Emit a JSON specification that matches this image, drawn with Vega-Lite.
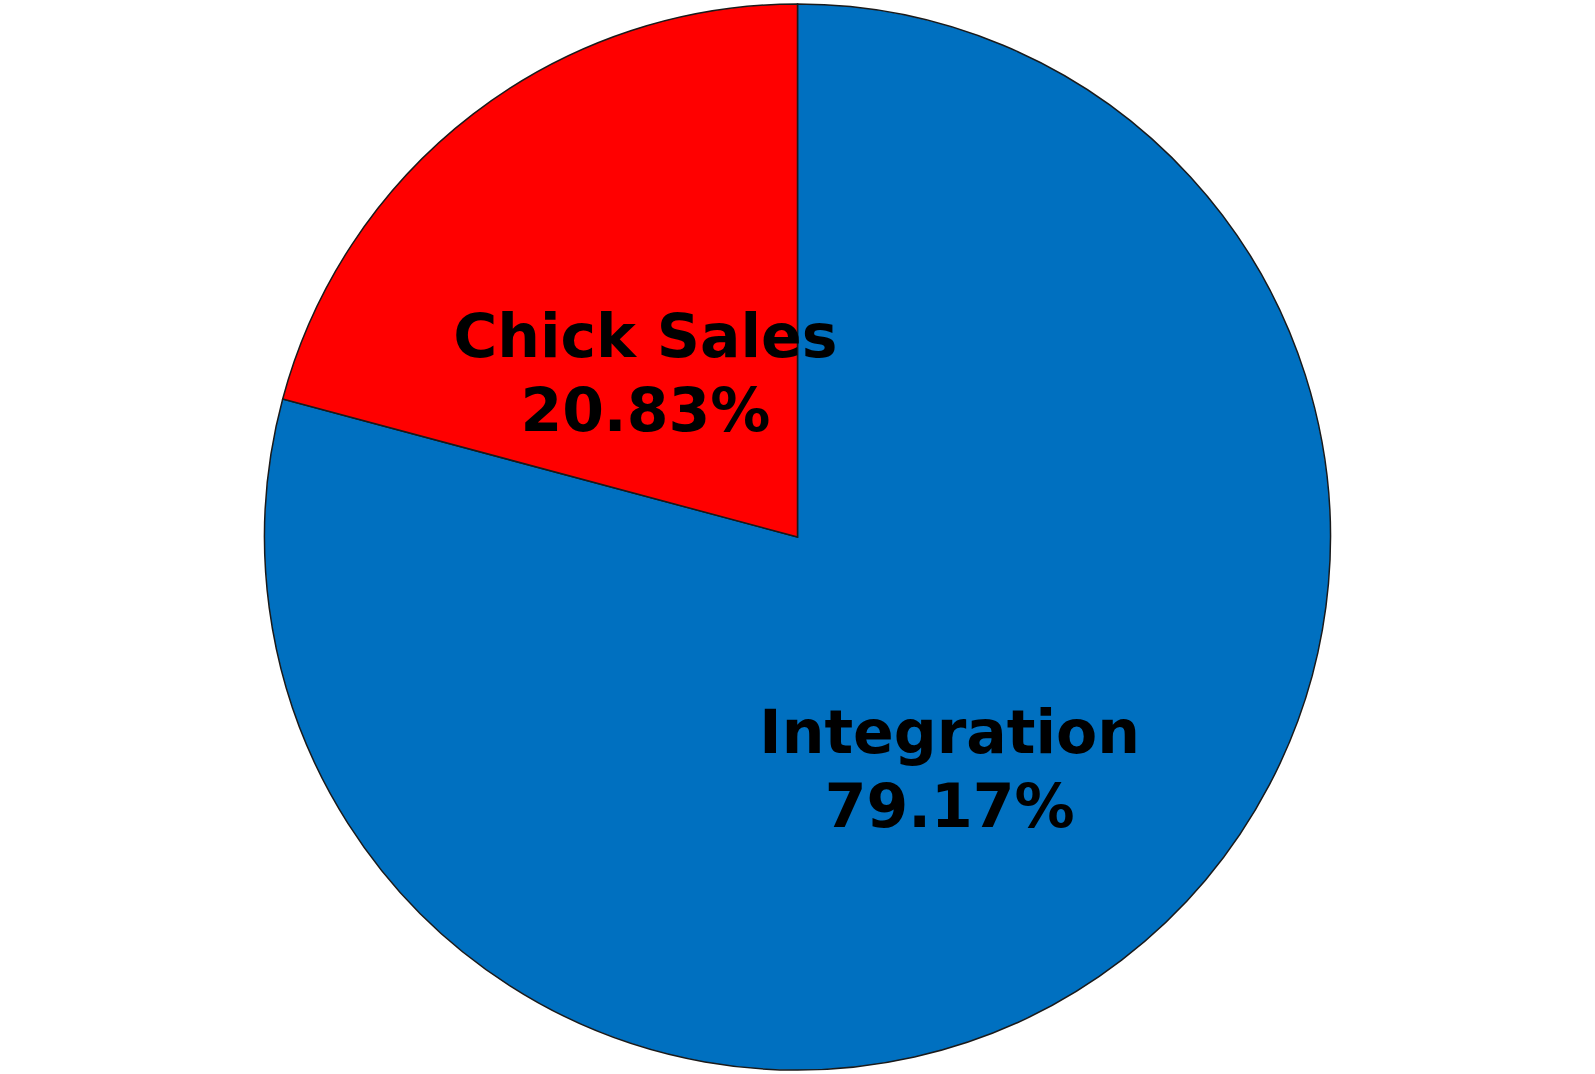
{
  "$schema": "https://vega.github.io/schema/vega-lite/v6.json",
  "autosize": {"type": "fit", "contains": "padding"},
  "width": 1595,
  "height": 1074,
  "padding": 0,
  "background": "white",
  "view": {"stroke": null},
  "data": {
    "values": [
      {"category": "Integration", "share": 79.17, "order": 1, "label": ["Integration", "79.17%"]},
      {"category": "Chick Sales", "share": 20.83, "order": 2, "label": ["Chick Sales", "20.83%"]}
    ]
  },
  "encoding": {
    "theta": {"field": "share", "type": "quantitative", "stack": true},
    "order": {"field": "order", "type": "quantitative"}
  },
  "layer": [
    {
      "mark": {"type": "arc", "outerRadius": 533, "stroke": "#1a1a1a", "strokeWidth": 1.5},
      "encoding": {
        "color": {
          "field": "category",
          "type": "nominal",
          "scale": {"domain": ["Integration", "Chick Sales"], "range": ["#0070C0", "#FF0000"]},
          "legend": null
        }
      }
    },
    {
      "mark": {"type": "text", "radius": 250, "font": "DejaVu Sans", "fontWeight": "bold", "fontSize": 60, "lineHeight": 74, "color": "black", "baseline": "middle", "align": "center"},
      "encoding": {
        "text": {"field": "label"}
      }
    }
  ]
}
